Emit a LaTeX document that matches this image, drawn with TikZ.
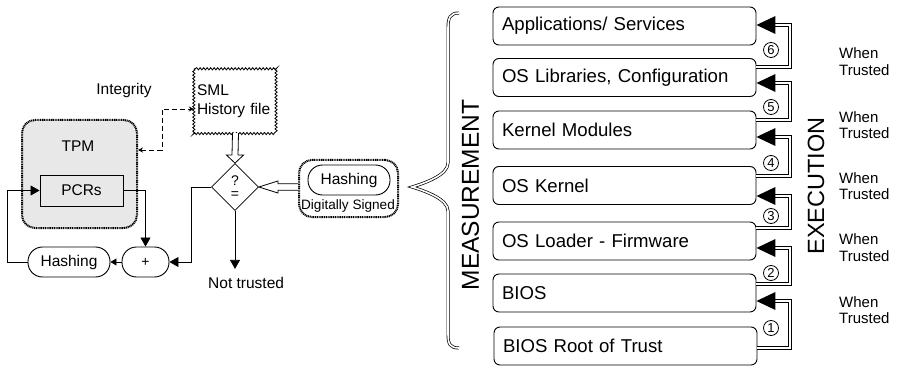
\documentclass[tikz,border=0pt]{standalone}
\usepackage{fontspec}
\setmainfont{Liberation Sans}
\usetikzlibrary{arrows.meta,calc,decorations.pathmorphing,shapes.geometric}
\begin{document}
\begin{tikzpicture}[x=1pt,y=-1pt,
  every node/.style={inner sep=0pt},
  rbox/.style={draw, rounded corners=6pt, line width=0.9pt, text width=245pt, align=left,
    inner xsep=9pt, minimum height=38pt, font=\fontsize{18.6}{20}\selectfont},
  dline/.style={draw=black, double=white, double distance=2pt, line width=0.8pt},
  numc/.style={circle, draw, fill=white, line width=0.8pt, minimum size=15pt, font=\fontsize{13}{13}\selectfont},
  wt/.style={align=left, anchor=west, font=\fontsize{15}{16.5}\selectfont},
  lt/.style={font=\fontsize{15.5}{19}\selectfont},
  dotbox/.style={draw, line width=2pt, dash pattern=on 1.1pt off 0.7pt, rounded corners=13pt},
  pill/.style={draw, line width=0.9pt, rounded corners=14.5pt, minimum height=30pt, minimum width=82pt, font=\fontsize{15.5}{19}\selectfont},
  arr/.style={line width=0.8pt, -{Triangle[length=9pt,width=10pt]}},
  arrs/.style={line width=0.8pt, -{Triangle[length=6pt,width=7pt]}},
  hollow/.style={line width=0.8pt, fill=white, line join=miter}
]
\useasboundingbox (0,0) rectangle (899,366);

% ---------- right stack ----------
\node[rbox] (b6) at (624.5,26) {Applications/ Services};
\node[rbox] (b5) at (624.5,77.5) {OS Libraries, Configuration};
\node[rbox] (b4) at (624.5,130) {Kernel Modules};
\node[rbox] (b3) at (624.5,185.5) {OS Kernel};
\node[rbox] (b2) at (624.5,241) {OS Loader - Firmware};
\node[rbox] (b1) at (624.5,293) {BIOS};
\node[rbox] (b0) at (625.5,346) {BIOS Root of Trust};

\foreach \k/\lo/\bot/\tip/\cy in {1/0/348/301/328, 2/1/284/248/273, 3/2/228/196/216,
                                  4/3/176/137/163, 5/4/120/83/107, 6/5/67/25/50} {
  \draw[dline] (b\lo.east |- 0,\bot) -- (790,\bot) -- (790,\tip) -- (774,\tip);
  \fill (b\k.east |- 0,\tip) -- ++(19,-9) -- ++(0,18) -- cycle;
  \node[numc] (c\k) at (771,\cy) {\k};
}

\foreach \i/\y in {1/61.5, 2/125, 3/186, 4/247.5, 5/310}
  \node[wt] (w\i) at (839,\y) {When\\Trusted};

\node[rotate=90, font=\fontsize{23.5}{24}\selectfont] (exe) at (816,186) {EXECUTION};
\node[rotate=90, font=\fontsize{24.5}{25}\selectfont] (meas) at (470.5,195) {MEASUREMENT};

% brace
\draw[draw=black, double=white, double distance=1.6pt, line width=0.7pt]
  (459,13) .. controls (450,13) and (448,18) .. (448,28) -- (448,163)
  .. controls (448,175) and (425,183) .. (412,187)
  .. controls (425,191) and (448,199) .. (448,211) -- (448,334)
  .. controls (448,344) and (450,348) .. (459,348);

% ---------- left part ----------
\node[dotbox, fill=gray!18, minimum width=115pt, minimum height=108pt] (tpm) at (79.5,174) {};
\node[lt] (tpml) at (78,146) {TPM};
\node[draw, line width=0.9pt, fill=gray!18, minimum width=83pt, minimum height=31pt, lt] (pcr) at (81.5,190.5) {PCRs};
\node[lt] (integ) at (124,90) {Integrity};

\node[minimum width=83pt, minimum height=64pt, text width=77pt, inner xsep=3pt, align=left, lt] (sml) at (235.5,101) {SML\\History file};
\draw[line width=0.8pt, decorate, decoration={snake, amplitude=1.1pt, segment length=3.5pt}]
  (sml.north west) rectangle (sml.south east);

\node[diamond, draw, line width=0.8pt, minimum width=47pt, minimum height=47pt, align=center,
      font=\fontsize{14}{13}\selectfont] (dia) at (235,187) {?\\=};

\node[dotbox, minimum width=99pt, minimum height=57pt] (sig) at (348.5,188.5) {};
\node[pill] (hash2) at (349,180) {Hashing};
\node[font=\fontsize{13.6}{14}\selectfont] (ds) at (348,206) {Digitally Signed};

\node[pill, minimum width=47pt, font=\fontsize{14}{14}\selectfont] (plus) at (145.5,262) {+};
\node[pill] (hash) at (69,262) {Hashing};

% connectors
\draw[arr] (pcr.east) -| (plus.north);
\draw[arr] (dia.west) -- ++(-20,0) |- (plus.east);
\draw[arrs] (plus.west) -- (hash.east);
\draw[arr] (hash.west) -- ++(-20,0) |- (pcr.west);
\draw[line width=0.8pt, dash pattern=on 5pt off 3pt, {Stealth[length=5pt,width=5pt]}-{Stealth[length=5pt,width=5pt]}]
  (tpm.east |- 0,150) -- (162,150) -- (162,109) -- (sml.west |- 0,109);
\draw[arr] (dia.south) -- ++(0,58) coordinate (ntend);
\node[lt, anchor=west] (nt) at (208,283) {Not trusted};

% hollow arrows
\draw[hollow] ($(sml.south)+(-3,0)$) -- ($(dia.north)+(-3,-8)$) -- ($(dia.north)+(-8.5,-8)$) -- (dia.north)
  -- ($(dia.north)+(8.5,-8)$) -- ($(dia.north)+(3,-8)$) -- ($(sml.south)+(3,0)$);
\draw[hollow] ($(sig.west |- dia.east)+(0,-3.3)$) -- ($(dia.east)+(19,-3.3)$) -- ($(dia.east)+(19,-6)$) -- (dia.east)
  -- ($(dia.east)+(19,6)$) -- ($(dia.east)+(19,3.3)$) -- ($(sig.west |- dia.east)+(0,3.3)$);
\end{tikzpicture}
\end{document}
